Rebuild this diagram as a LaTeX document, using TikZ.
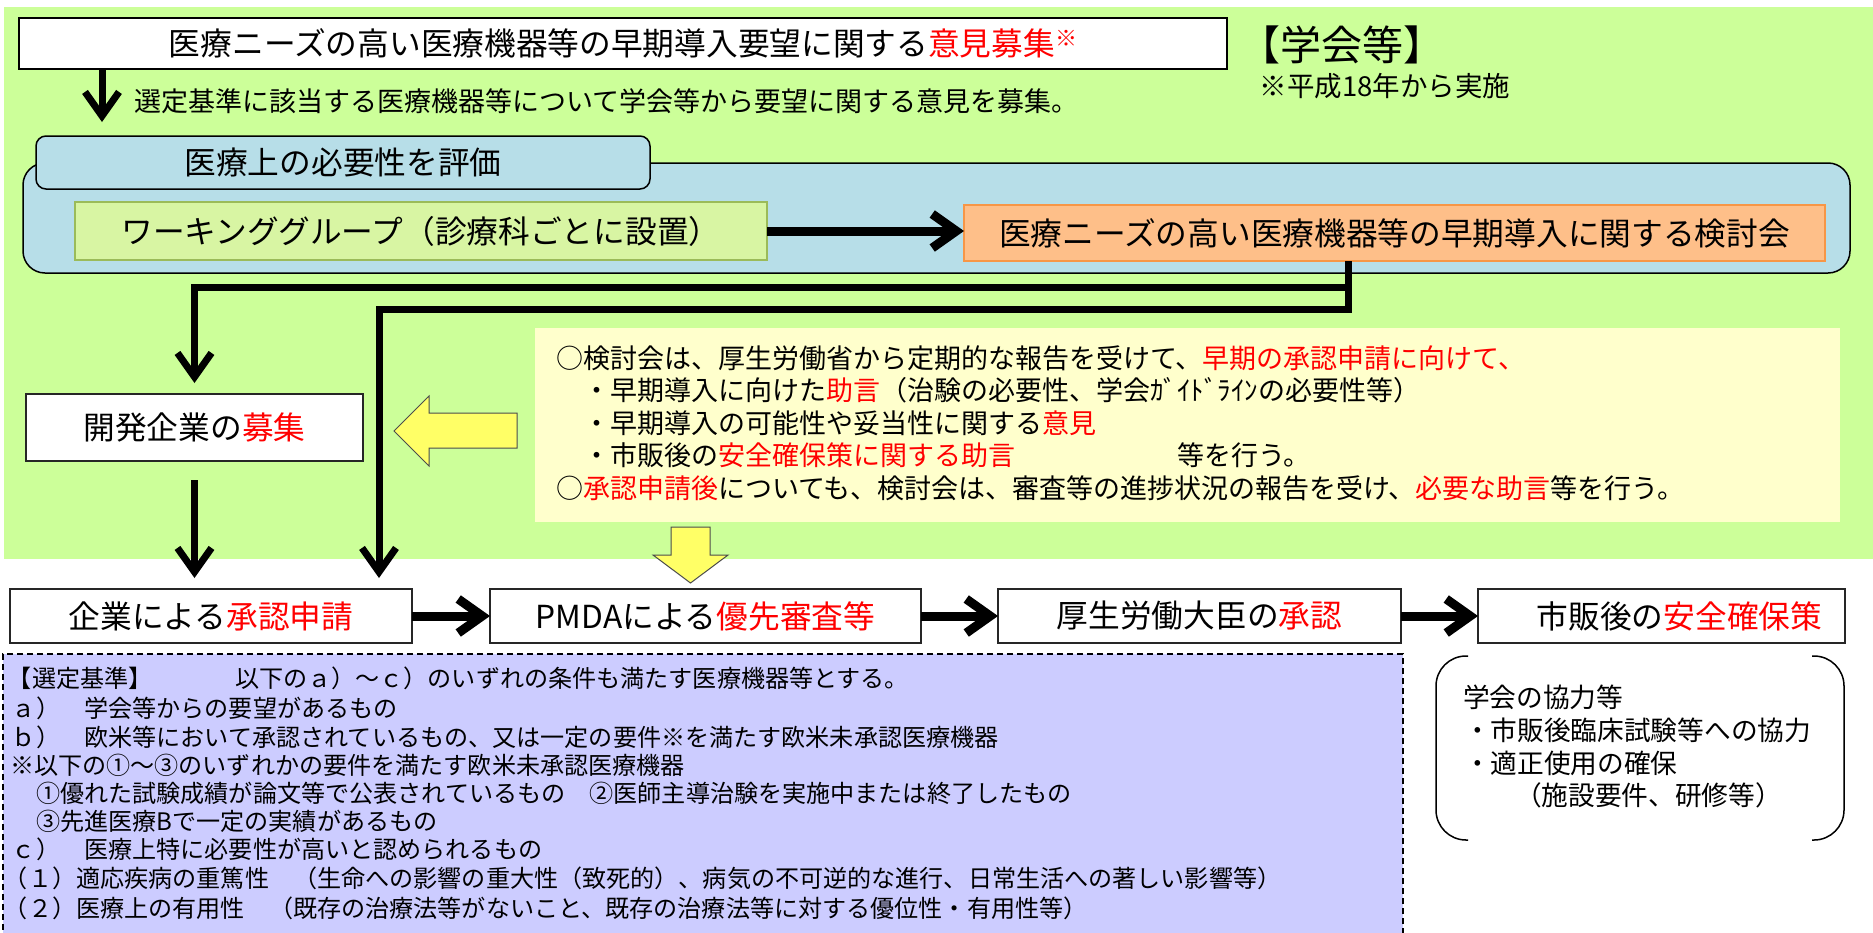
\documentclass[tikz,border=0pt]{standalone}
\usepackage{fontspec}
\setmainfont{Noto Sans CJK JP}
\usetikzlibrary{arrows.meta}
\definecolor{bggreen}{RGB}{204,255,153}
\definecolor{boxblue}{RGB}{183,222,232}
\definecolor{wgfill}{RGB}{216,245,163}
\definecolor{wgborder}{RGB}{155,187,89}
\definecolor{orfill}{RGB}{254,191,137}
\definecolor{orborder}{RGB}{247,150,70}
\definecolor{ylwbox}{RGB}{255,255,204}
\definecolor{ylwarrow}{RGB}{255,255,102}
\definecolor{lav}{RGB}{204,204,255}
\definecolor{jred}{RGB}{255,0,0}
\newcommand{\rd}[1]{\textcolor{jred}{#1}}
\begin{document}
\begin{tikzpicture}[x=1pt,y=-1pt,
  every node/.style={inner sep=0pt, outer sep=0pt},
  fbig/.style={font=\fontsize{31.7}{38}\selectfont},
  fmid/.style={font=\fontsize{27}{32}\selectfont},
  fsmall/.style={font=\fontsize{24.1}{29}\selectfont},
  fbr/.style={font=\fontsize{26.7}{32}\selectfont},
  wbox/.style={draw=black!85, line width=1.5pt, fill=white, fbig},
  harrow/.style={line width=9pt, -{Straight Barb[length=24pt,width=34pt]}},
  varrow/.style={line width=7pt, line join=miter, -{Straight Barb[length=24pt,width=34pt]}},
  yarrow/.style={fill=ylwarrow, draw=black!70, line width=1pt},
  ytext/.style={fmid, anchor=west},
  ctext/.style={fsmall, anchor=west},
  btext/.style={fbr, anchor=west}
]
\fill[white] (0,0) rectangle (1873,932);
\useasboundingbox (0,0) rectangle (1873,932);
\fill[bggreen] (4,7) rectangle (1873,559);

% top
\node[wbox, line width=2.5pt, draw=black, minimum width=1208pt, minimum height=51pt] (top) at (623,43.5)
  {医療ニーズの高い医療機器等の早期導入要望に関する\rd{意見募集}\raisebox{9pt}{\fontsize{22}{22}\selectfont\rd{※}}};
\coordinate (a1) at (102,122);
\draw[varrow] (top.south -| a1) -- (a1);
\node[fmid, anchor=west] (t2) at (134,101) {選定基準に該当する医療機器等について学会等から要望に関する意見を募集。};
\node[font=\fontsize{41}{46}\selectfont] (gk) at (1342,45) {【学会等】};
\node[font=\fontsize{27.5}{32}\selectfont] (hs) at (1385,86) {※平成18年から実施};

% evaluation group
\node[draw=black, line width=1.5pt, fill=boxblue, rounded corners=22pt, minimum width=1827pt, minimum height=110pt] (blue) at (936.5,218) {};
\node[draw=black, line width=1.5pt, fill=boxblue, rounded corners=10pt, minimum width=614pt, minimum height=53pt, fbig] (tab) at (343,162.5) {医療上の必要性を評価};
\node[draw=wgborder, line width=1.5pt, fill=wgfill, minimum width=692pt, minimum height=58pt, fbig] (wg) at (421,231) {ワーキンググループ（診療科ごとに設置）};
\node[draw=orborder, line width=1.5pt, fill=orfill, minimum width=861pt, minimum height=56pt, fbig] (kt) at (1394.5,233) {医療ニーズの高い医療機器等の早期導入に関する検討会};
\draw[harrow] (wg.east) -- (wg.east -| kt.west);

% yellow note
\node[fill=ylwbox, minimum width=1305pt, minimum height=194pt] (yb) at (1187.5,425) {};
\node[ytext] (y1) at (556,358) {○検討会は、厚生労働省から定期的な報告を受けて、\rd{早期の承認申請に向けて、}};
\node[ytext] (y2) at (556,390) {　・早期導入に向けた\rd{助言}（治験の必要性、学会ｶﾞｲﾄﾞﾗｲﾝの必要性等）};
\node[ytext] (y3) at (556,423) {　・早期導入の可能性や妥当性に関する\rd{意見}};
\node[ytext] (y4) at (556,455) {　・市販後の\rd{安全確保策に関する助言}　　　　　　等を行う。};
\node[ytext] (y5) at (556,488) {○\rd{承認申請後}についても、検討会は、審査等の進捗状況の報告を受け、\rd{必要な助言}等を行う。};

% company recruitment
\node[wbox, minimum width=337pt, minimum height=67pt] (kh) at (194.5,427.5) {開発企業の\rd{募集}};

% bottom flow
\node[wbox, minimum width=402pt, minimum height=54pt] (b1) at (211,616) {企業による\rd{承認申請}};
\node[wbox, minimum width=431pt, minimum height=54pt] (b2) at (705.5,616) {PMDAによる\rd{優先審査等}};
\node[wbox, minimum width=403pt, minimum height=54pt] (b3) at (1199.5,616) {厚生労働大臣の\rd{承認}};
\node[wbox, minimum width=367pt, minimum height=54pt] (b4) at (1661.5,616) {\hspace*{36pt}市販後の\rd{安全確保策}};
\draw[harrow] (b1.east) -- (b2.west);
\draw[harrow] (b2.east) -- (b3.west);
\draw[harrow] (b3.east) -- (b4.west);

% connectors from the committee
\coordinate (j1) at (1348,287);
\coordinate (j2) at (1348,309);
\draw[varrow, shorten >=11pt] (kt.south -| j2) -- (j2) -| ([xshift=168pt]b1.north);
\draw[varrow, shorten >=11pt] (j1) -| (kh.north);
\draw[varrow, shorten <=19pt, shorten >=11pt] (kh.south) -- (kh.south |- b1.north);

% yellow block arrows
\draw[yarrow] (394,431) -- (429,396) -- (429,413) -- (517,413) -- (517,448) -- (429,448) -- (429,466) -- cycle;
\draw[yarrow] (671,527) -- (710,527) -- (710,555) -- (728,555) -- (690.5,583) -- (653,555) -- (671,555) -- cycle;

% criteria box
\node[draw=black, dash pattern=on 6pt off 4pt, line width=2pt, fill=lav, minimum width=1400pt, minimum height=290pt] (crit) at (703,799) {};
\node[ctext] (c1) at (8,678) {【選定基準】};
\node[ctext] (c1b) at (235,678) {以下のａ）～ｃ）のいずれの条件も満たす医療機器等とする。};
\node[ctext] (c2) at (12,708) {ａ）　学会等からの要望があるもの};
\node[ctext] (c3) at (12,737) {ｂ）　欧米等において承認されているもの、又は一定の要件※を満たす欧米未承認医療機器};
\node[ctext] (c4) at (10,765) {※以下の①～③のいずれかの要件を満たす欧米未承認医療機器};
\node[ctext] (c5) at (12,793) {　①優れた試験成績が論文等で公表されているもの　②医師主導治験を実施中または終了したもの};
\node[ctext] (c6) at (12,821) {　③先進医療Bで一定の実績があるもの};
\node[ctext] (c7) at (12,849) {ｃ）　医療上特に必要性が高いと認められるもの};
\node[ctext] (c8) at (4,878) {（１）適応疾病の重篤性　（生命への影響の重大性（致死的）、病気の不可逆的な進行、日常生活への著しい影響等）};
\node[ctext] (c9) at (4,908) {（２）医療上の有用性　（既存の治療法等がないこと、既存の治療法等に対する優位性・有用性等）};

% academic cooperation bracket
\draw[line width=1.5pt, rounded corners=30pt] (1468,656) -- (1436,656) -- (1436,840) -- (1468,840);
\draw[line width=1.5pt, rounded corners=30pt] (1812,656) -- (1844,656) -- (1844,840) -- (1812,840);
\node[btext] (g1) at (1463,697) {学会の協力等};
\node[btext] (g2) at (1464,730) {・市販後臨床試験等への協力};
\node[btext] (g3) at (1464,763) {・適正使用の確保};
\node[btext] (g4) at (1515,795) {（施設要件、研修等）};
\end{tikzpicture}
\end{document}
